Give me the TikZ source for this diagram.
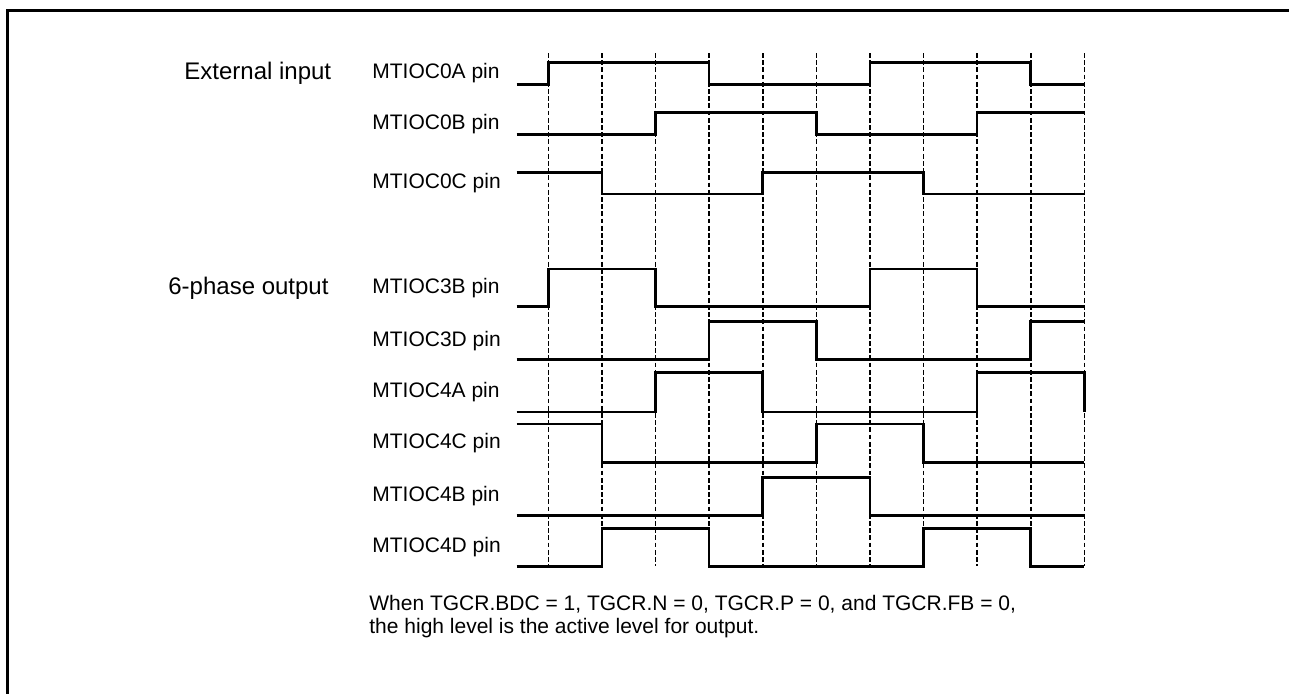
\documentclass[tikz,border=0pt]{standalone}
\usepackage{fontspec}
\setmainfont{Liberation Sans}
\usepackage{tikz}
\usetikzlibrary{positioning}

\begin{document}
\begin{tikzpicture}[x=0.5pt,y=-0.5pt,
  wave/.style={line width=1.25pt},
  tickline/.style={line width=0.8pt,dash pattern=on 2.4pt off 1.2pt},
  pinlabel/.style={anchor=west,inner sep=0pt,font=\fontsize{10.5}{12}\selectfont},
  grouplabel/.style={pinlabel,font=\fontsize{12}{14}\selectfont}]

\useasboundingbox (0,0) rectangle (1289,693);

% Rahmen
\draw[line width=1.5pt] (7,700) -- (7,10) -- (1295,10);

% Gruppen
\node[grouplabel] (ext) at (184,73.5) {External input};
\node[grouplabel] (six) at (168,287.8) {6-phase output};

% Pins
\node[pinlabel] (p0A) at (372,73.5) {MTIOC0A pin};
\node[pinlabel] (p0B) at (372,123.7) {MTIOC0B pin};
\node[pinlabel] (p0C) at (372,183.3) {MTIOC0C pin};
\node[pinlabel] (p3B) at (372,287.8) {MTIOC3B pin};
\node[pinlabel] (p3D) at (372,340.6) {MTIOC3D pin};
\node[pinlabel] (p4A) at (372,392.3) {MTIOC4A pin};
\node[pinlabel] (p4C) at (372,443.3) {MTIOC4C pin};
\node[pinlabel] (p4B) at (372,496.5) {MTIOC4B pin};
\node[pinlabel] (p4D) at (372,547.5) {MTIOC4D pin};

\begin{scope}[shift={(548.3,0)},x=26.8pt]
% Zeitraster
\foreach \k in {0,...,10}
  \draw[tickline] (\k,53) -- (\k,566);

% Eingaenge
\draw[wave] (-0.59,84.3) -| (0,62.7) -| (3,84.3) -| (6,62.7) -| (9,84.3) -- (10,84.3);
\draw[wave] (-0.59,134.7) -| (2,112.7) -| (5,134.7) -| (8,112.7) -- (10,112.7);
\draw[wave] (-0.59,172.7) -| (1,194) -| (4,172.7) -| (7,194) -- (10,194);

% Ausgaenge
\draw[wave] (-0.59,306.5) -| (0,269) -| (2,306.5) -| (6,269) -| (8,306.5) -- (10,306.5);
\draw[wave] (-0.59,359.5) -| (3,321.7) -| (5,359.5) -| (9,321.7) -- (10,321.7);
\draw[wave] (-0.59,412) -| (2,372.7) -| (4,412) -| (8,372.7) -| (10,412);
\draw[wave] (-0.59,424) -| (1,462.5) -| (5,424) -| (7,462.5) -- (10,462.5);
\draw[wave] (-0.59,515.7) -| (4,477.3) -| (6,515.7) -- (10,515.7);
\draw[wave] (-0.59,566.7) -| (1,528.3) -| (3,566.7) -| (7,528.3) -| (9,566.7) -- (10,566.7);
\end{scope}

% Hinweis
\node[pinlabel,align=left,font=\fontsize{10.5}{11.5}\selectfont] (note) at (369,616.5)
  {When TGCR.BDC = 1, TGCR.N = 0, TGCR.P = 0, and TGCR.FB = 0,\\
   the high level is the active level for output.};

\end{tikzpicture}
\end{document}
